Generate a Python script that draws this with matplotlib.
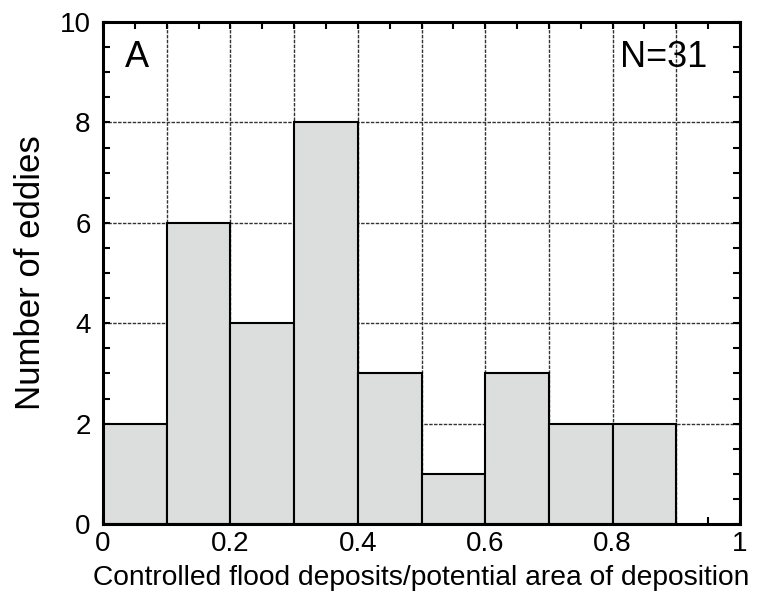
import matplotlib
matplotlib.use("Agg")
import matplotlib.pyplot as plt
from matplotlib.ticker import MultipleLocator, FuncFormatter

# Histogram of controlled flood deposit ratios
bin_edges = [0.0, 0.1, 0.2, 0.3, 0.4, 0.5, 0.6, 0.7, 0.8, 0.9]
counts = [2, 6, 4, 8, 3, 1, 3, 2, 2]
panel_label = "A"
n_label = "N=31"
x_label = "Controlled flood deposits/potential area of deposition"
y_label = "Number of eddies"

plt.rcParams['font.family'] = ['Liberation Sans', 'DejaVu Sans']

fig = plt.figure(figsize=(7.59, 5.97), dpi=100)
ax = fig.add_axes([103/759, 1 - 524/597, (740 - 103)/759, (524 - 22)/597])

widths = [bin_edges[i + 1] - bin_edges[i] for i in range(len(counts))]
ax.bar(bin_edges[:-1], counts, width=widths, align='edge',
       color='#dcdddd', edgecolor='black', linewidth=1.5, zorder=2)

ax.set_xlim(0, 1)
ax.set_ylim(0, 10)

ax.xaxis.set_major_locator(MultipleLocator(0.1))
ax.xaxis.set_minor_locator(MultipleLocator(0.05))
ax.yaxis.set_major_locator(MultipleLocator(2))
ax.yaxis.set_minor_locator(MultipleLocator(0.5))


def xfmt(v, pos):
    k = int(round(v * 10))
    if k % 2:
        return ""
    if k == 0:
        return "0"
    if k == 10:
        return "1"
    return f"{v:.1f}"


ax.xaxis.set_major_formatter(FuncFormatter(xfmt))
ax.yaxis.set_major_formatter(FuncFormatter(lambda v, p: f"{int(round(v))}"))

ax.tick_params(which='both', direction='in', top=True, right=True,
               labelsize=20, colors='black', width=1.5, length=5)
ax.tick_params(axis='x', which='major', pad=5)
ax.tick_params(axis='y', which='major', pad=9)

ax.grid(True, which='major', linestyle=(0, (2.5, 1.0)), color='#333333',
        linewidth=1.0, zorder=0)
ax.set_axisbelow(True)

for s in ax.spines.values():
    s.set_linewidth(2.2)
    s.set_zorder(3)

ax.set_xlabel(x_label, fontsize=20.3, labelpad=6)
ax.set_ylabel(y_label, fontsize=25, labelpad=9)

ax.text(0.0345, 9.1, panel_label, fontsize=26, ha='left', va='baseline')
ax.text(0.948, 9.1, n_label, fontsize=26, ha='right', va='baseline')

fig.savefig("out.png", dpi=100)
